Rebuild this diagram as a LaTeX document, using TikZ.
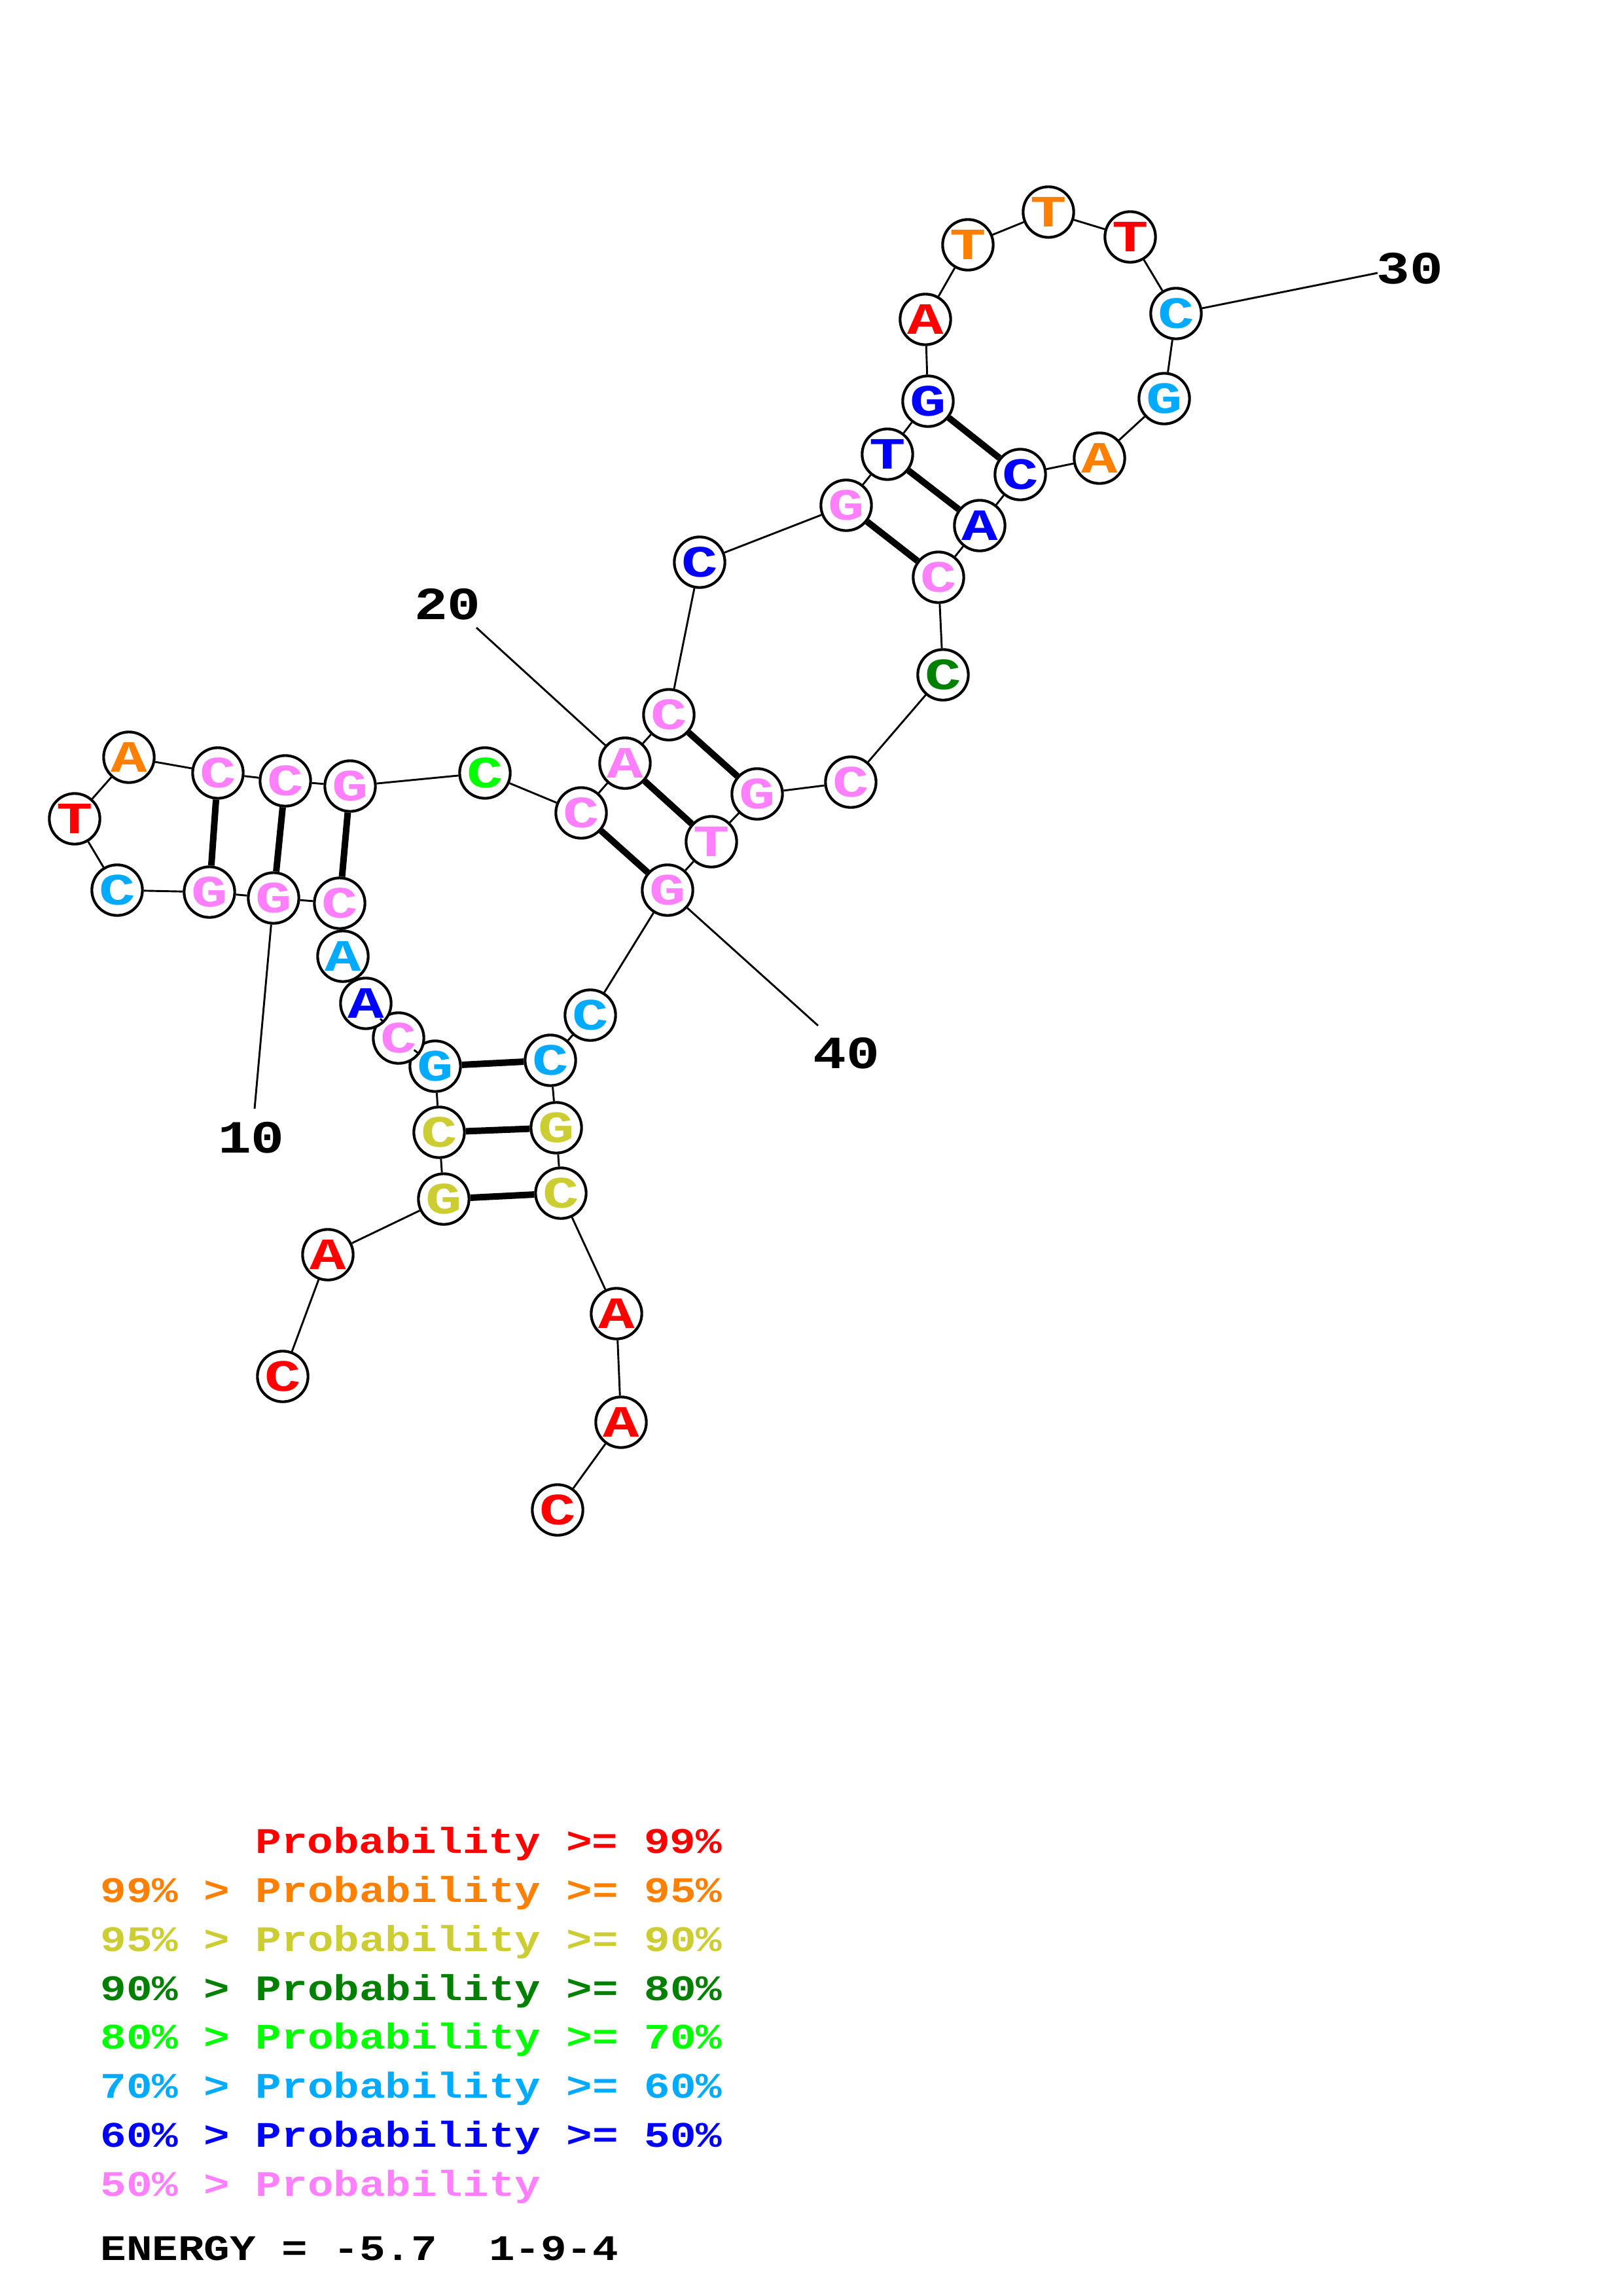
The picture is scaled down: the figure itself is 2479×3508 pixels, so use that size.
\documentclass[tikz,border=0pt]{standalone}
\usepackage{fontspec}
\newfontfamily\courfont[FakeStretch=1.2]{Liberation Mono}
\newfontfamily\basefont[FakeStretch=1.35]{Liberation Mono}

\definecolor{pred}{RGB}{255,0,0}
\definecolor{porange}{RGB}{255,128,0}
\definecolor{pyellow}{RGB}{204,204,51}
\definecolor{pdkgreen}{RGB}{0,128,0}
\definecolor{pgreen}{RGB}{0,255,0}
\definecolor{pcyan}{RGB}{0,170,255}
\definecolor{pblue}{RGB}{0,0,255}
\definecolor{ppink}{RGB}{255,128,255}

\tikzset{every picture/.style={line width=0.7pt}}

\begin{document}
\begin{tikzpicture}[x=0.08471mm,y=0.08471mm,yscale=-1,xscale=1,
  base/.style={circle, draw, line width=1pt, fill=white, minimum size=6.55mm, inner sep=0pt, font=\basefont\bfseries\fontsize{16.5}{18}\selectfont},
  pair/.style={line width=2.4pt},
  num/.style={inner sep=0pt, font=\courfont\bfseries\fontsize{17}{19}\selectfont},
  legend/.style={anchor=base west, inner sep=0pt, font=\courfont\bfseries\fontsize{13.25}{15}\selectfont}]
\useasboundingbox (0,0) rectangle (2479,3508);

%Bases 1-12
\node [base, text=pred] (n1) at (432,2103) {C};
\node [base, text=pred] (n2) at (501,1917) {A};
\node [base, text=pyellow] (n3) at (678,1832) {G};
\node [base, text=pyellow] (n4) at (671,1730) {C};
\node [base, text=pcyan] (n5) at (665,1629) {G};
\node [base, text=ppink] (n6) at (609,1586) {C};
\node [base, text=pblue] (n7) at (559,1533) {A};
\node [base, text=pcyan] (n8) at (524,1461) {A};
\node [base, text=ppink] (n9) at (519,1380) {C};
\node [base, text=ppink] (n10) at (418,1372) {G};
\node [base, text=ppink] (n11) at (320,1363) {G};
\node [base, text=pcyan] (n12) at (179,1360) {C};
%Bases 13-24
\node [base, text=pred] (n13) at (114,1251) {T};
\node [base, text=porange] (n14) at (197,1157) {A};
\node [base, text=ppink] (n15) at (333,1181) {C};
\node [base, text=ppink] (n16) at (436,1193) {C};
\node [base, text=ppink] (n17) at (535,1201) {G};
\node [base, text=pgreen] (n18) at (741,1181) {C};
\node [base, text=ppink] (n19) at (888,1242) {C};
\node [base, text=ppink] (n20) at (955,1166) {A};
\node [base, text=ppink] (n21) at (1022,1092) {C};
\node [base, text=pblue] (n22) at (1069,859) {C};
\node [base, text=ppink] (n23) at (1293,772) {G};
\node [base, text=pblue] (n24) at (1356,694) {T};
%Bases 25-36
\node [base, text=pblue] (n25) at (1418,613) {G};
\node [base, text=pred] (n26) at (1414,488) {A};
\node [base, text=porange] (n27) at (1479,374) {T};
\node [base, text=porange] (n28) at (1602,324) {T};
\node [base, text=pred] (n29) at (1727,362) {T};
\node [base, text=pcyan] (n30) at (1797,479) {C};
\node [base, text=pcyan] (n31) at (1779,609) {G};
\node [base, text=porange] (n32) at (1680,700) {A};
\node [base, text=pblue] (n33) at (1559,725) {C};
\node [base, text=pblue] (n34) at (1497,803) {A};
\node [base, text=ppink] (n35) at (1434,882) {C};
\node [base, text=pdkgreen] (n36) at (1441,1031) {C};
%Bases 37-47
\node [base, text=ppink] (n37) at (1300,1195) {C};
\node [base, text=ppink] (n38) at (1157,1213) {G};
\node [base, text=ppink] (n39) at (1087,1286) {T};
\node [base, text=ppink] (n40) at (1020,1360) {G};
\node [base, text=pcyan] (n41) at (902,1551) {C};
\node [base, text=pcyan] (n42) at (841,1620) {C};
\node [base, text=pyellow] (n43) at (850,1723) {G};
\node [base, text=pyellow] (n44) at (857,1823) {C};
\node [base, text=pred] (n45) at (942,2007) {A};
\node [base, text=pred] (n46) at (949,2173) {A};
\node [base, text=pred] (n47) at (852,2307) {C};

%Backbone
\draw (n1) -- (n2);   \draw (n2) -- (n3);   \draw (n3) -- (n4);   \draw (n4) -- (n5);
\draw (n5) -- (n6);   \draw (n6) -- (n7);   \draw (n7) -- (n8);   \draw (n8) -- (n9);
\draw (n9) -- (n10);  \draw (n10) -- (n11); \draw (n11) -- (n12); \draw (n12) -- (n13);
\draw (n13) -- (n14); \draw (n14) -- (n15); \draw (n15) -- (n16); \draw (n16) -- (n17);
\draw (n17) -- (n18); \draw (n18) -- (n19); \draw (n19) -- (n20); \draw (n20) -- (n21);
\draw (n21) -- (n22); \draw (n22) -- (n23); \draw (n23) -- (n24); \draw (n24) -- (n25);
\draw (n25) -- (n26); \draw (n26) -- (n27); \draw (n27) -- (n28); \draw (n28) -- (n29);
\draw (n29) -- (n30); \draw (n30) -- (n31); \draw (n31) -- (n32); \draw (n32) -- (n33);
\draw (n33) -- (n34); \draw (n34) -- (n35); \draw (n35) -- (n36); \draw (n36) -- (n37);
\draw (n37) -- (n38); \draw (n38) -- (n39); \draw (n39) -- (n40); \draw (n40) -- (n41);
\draw (n41) -- (n42); \draw (n42) -- (n43); \draw (n43) -- (n44); \draw (n44) -- (n45);
\draw (n45) -- (n46); \draw (n46) -- (n47);

%Base pairs
\draw [pair] (n3) -- (n44);
\draw [pair] (n4) -- (n43);
\draw [pair] (n5) -- (n42);
\draw [pair] (n9) -- (n17);
\draw [pair] (n10) -- (n16);
\draw [pair] (n11) -- (n15);
\draw [pair] (n19) -- (n40);
\draw [pair] (n20) -- (n39);
\draw [pair] (n21) -- (n38);
\draw [pair] (n23) -- (n35);
\draw [pair] (n24) -- (n34);
\draw [pair] (n25) -- (n33);

%Numbering
\coordinate (c10) at (389,1694);
\coordinate (c20) at (728,959);
\coordinate (c30) at (2105,417);
\coordinate (c40) at (1250,1567);
\draw (n10) -- (c10);
\draw (c20) -- (n20);
\draw (n30) -- (c30);
\draw (n40) -- (c40);
\node [num] (t10) at (384,1738) {10};
\node [num] (t20) at (684,923) {20};
\node [num] (t30) at (2154,410) {30};
\node [num] (t40) at (1293,1609) {40};

%Legend
\node [legend, text=pred] (k1) at (389,2831) {Probability >= 99\%};
\node [legend, text=porange] (k2) at (152,2906) {99\% > Probability >= 95\%};
\node [legend, text=pyellow] (k3) at (152,2981) {95\% > Probability >= 90\%};
\node [legend, text=pdkgreen] (k4) at (152,3056) {90\% > Probability >= 80\%};
\node [legend, text=pgreen] (k5) at (152,3130) {80\% > Probability >= 70\%};
\node [legend, text=pcyan] (k6) at (152,3205) {70\% > Probability >= 60\%};
\node [legend, text=pblue] (k7) at (152,3280) {60\% > Probability >= 50\%};
\node [legend, text=ppink] (k8) at (152,3355) {50\% > Probability};
\node [legend] (energy) at (152,3453) {ENERGY = -5.7~~1-9-4};

\end{tikzpicture}
\end{document}
